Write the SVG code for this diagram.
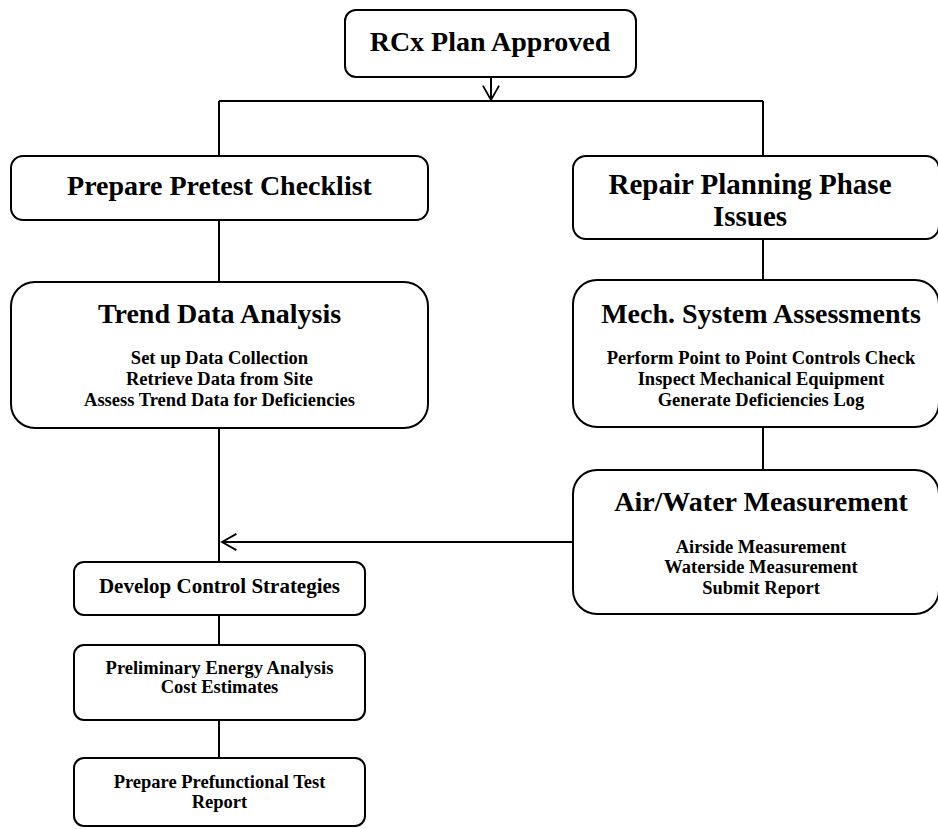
<svg xmlns="http://www.w3.org/2000/svg" width="938" height="829" viewBox="0 0 938 829">
<defs>
<style>
.box{fill:#fff;stroke:#000;stroke-width:2}
.ln{fill:none;stroke:#000;stroke-width:2}
text{font-family:"Liberation Serif","Times New Roman",serif;font-weight:bold;fill:#000;text-anchor:middle}
.t28{font-size:28px}
.t29{font-size:29px}
.t21{font-size:21px}
.s{font-size:18.5px}
</style>
<marker id="open" viewBox="0 0 20 20" refX="18" refY="10" markerWidth="18" markerHeight="18" markerUnits="userSpaceOnUse" orient="auto">
<path d="M2,1 L18,10 L2,19" fill="none" stroke="#000" stroke-width="2"/>
</marker>
</defs>
<rect width="938" height="829" fill="#fff"/>
<g id="connectors">
<line class="ln" x1="491" y1="77" x2="491" y2="100" marker-end="url(#open)"/>
<line class="ln" x1="219" y1="101" x2="763" y2="101"/>
<line class="ln" x1="219" y1="101" x2="219" y2="156"/>
<line class="ln" x1="763" y1="101" x2="763" y2="156"/>
<line class="ln" x1="219" y1="220" x2="219" y2="282"/>
<line class="ln" x1="763" y1="239" x2="763" y2="280"/>
<line class="ln" x1="763" y1="427" x2="763" y2="470"/>
<line class="ln" x1="219" y1="428" x2="219" y2="562"/>
<line class="ln" x1="573" y1="542" x2="222" y2="542" marker-end="url(#open)"/>
<line class="ln" x1="219" y1="615" x2="219" y2="645"/>
<line class="ln" x1="219" y1="720" x2="219" y2="758"/>
</g>
<g id="rcx">
<rect class="box" x="345" y="10" width="291" height="67" rx="11"/>
<text class="t28" x="490" y="51">RCx Plan Approved</text>
</g>
<g id="pretest">
<rect class="box" x="11" y="156" width="417" height="64" rx="12"/>
<text class="t28" x="219.5" y="195">Prepare Pretest Checklist</text>
</g>
<g id="repair">
<rect class="box" x="573" y="156" width="366" height="83" rx="13"/>
<text class="t29" x="750" y="194">Repair Planning Phase</text>
<text class="t29" x="750" y="226">Issues</text>
</g>
<g id="trend">
<rect class="box" x="11" y="282" width="417" height="146" rx="24"/>
<text class="t28" x="219.5" y="323">Trend Data Analysis</text>
<text class="s" x="219.5" y="364">Set up Data Collection</text>
<text class="s" x="219.5" y="385">Retrieve Data from Site</text>
<text class="s" x="219.5" y="406">Assess Trend Data for Deficiencies</text>
</g>
<g id="mech">
<rect class="box" x="573" y="280" width="366" height="147" rx="24"/>
<text class="t28" x="761" y="323">Mech. System Assessments</text>
<text class="s" x="761" y="364">Perform Point to Point Controls Check</text>
<text class="s" x="761" y="385">Inspect Mechanical Equipment</text>
<text class="s" x="761" y="406">Generate Deficiencies Log</text>
</g>
<g id="airwater">
<rect class="box" x="573" y="470" width="366" height="144" rx="24"/>
<text class="t28" x="761" y="511">Air/Water Measurement</text>
<text class="s" x="761" y="553">Airside Measurement</text>
<text class="s" x="761" y="573">Waterside Measurement</text>
<text class="s" x="761" y="594">Submit Report</text>
</g>
<g id="develop">
<rect class="box" x="74" y="562" width="291" height="53" rx="10"/>
<text class="t21" x="219.5" y="593">Develop Control Strategies</text>
</g>
<g id="prelim">
<rect class="box" x="74" y="645" width="291" height="75" rx="10"/>
<text class="s" x="219.5" y="674">Preliminary Energy Analysis</text>
<text class="s" x="219.5" y="693">Cost Estimates</text>
</g>
<g id="prefunc">
<rect class="box" x="74" y="758" width="291" height="68" rx="10"/>
<text class="s" x="219.5" y="788">Prepare Prefunctional Test</text>
<text class="s" x="219.5" y="808">Report</text>
</g>
</svg>
